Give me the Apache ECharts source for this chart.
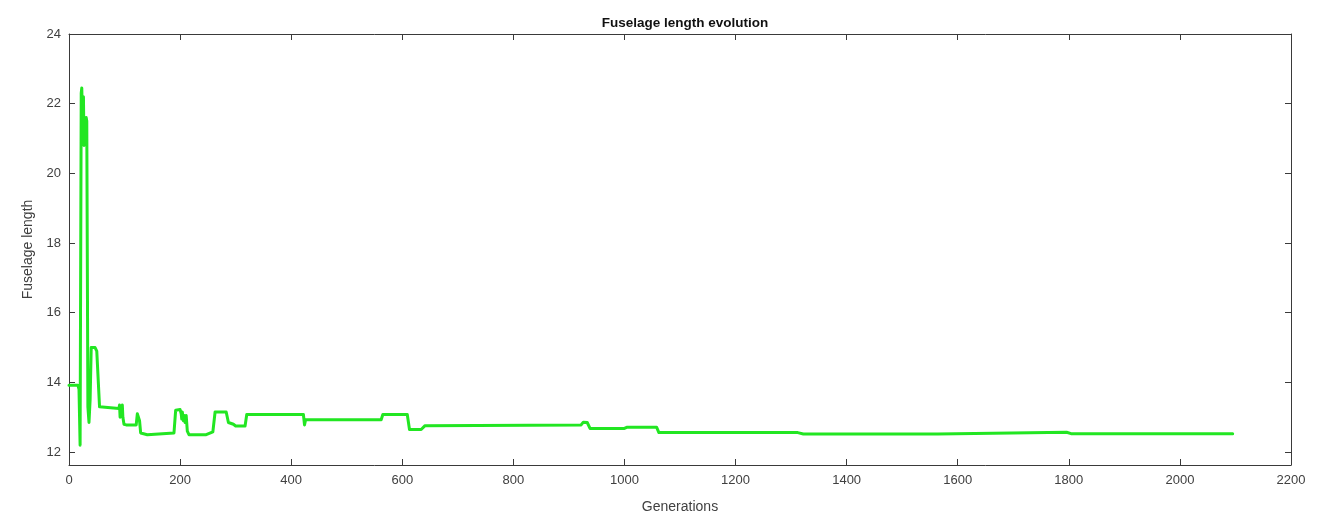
<!DOCTYPE html>
<html>
<head>
<meta charset="utf-8">
<script src="https://cdn.jsdelivr.net/npm/echarts@6/dist/echarts.min.js"></script>
<style>
  html, body { margin: 0; padding: 0; background: #fff; }
  #chart { width: 1329px; height: 519px; }
</style>
</head>
<body>
<div id="chart"></div>
<script>
// Best-so-far fuselage length per generation (step changes)
const generations = [
  0, 16, 18, 20, 22, 23, 25, 26, 27, 28, 30, 31, 32, 34, 36, 38, 40, 47, 50, 52,
  55, 57, 90, 91, 92, 93, 94, 96, 97, 99, 103, 121, 123, 125, 127, 129, 131, 141, 144, 189,
  192, 200, 202, 203, 204, 206, 207, 209, 211, 213, 216, 247, 250, 259, 263, 283, 287, 296, 300, 317,
  320, 422, 424, 426, 562, 565, 609, 613, 634, 641, 922, 926, 933, 938, 1000, 1004, 1058, 1062, 1312, 1322,
  1564, 1567, 1796, 1804, 2095
];
const fuselageLength = [
  13.92, 13.92, 13.8, 12.2, 22.3, 22.45, 21.0, 22.2, 20.8, 21.6, 20.9, 21.6, 21.5, 13.3, 12.85, 13.5, 15.0, 15.0, 14.9, 14.85,
  13.3, 13.25, 13.25, 13.35, 13.0, 13.3, 13.1, 13.35, 13.0, 12.8, 12.78, 12.78, 13.1, 13.0, 12.9, 12.55, 12.5, 12.5, 12.55, 12.55,
  13.2, 13.22, 13.1, 12.95, 13.15, 12.9, 13.05, 12.85, 13.05, 12.6, 12.5, 12.5, 12.55, 12.58, 13.15, 13.15, 12.85, 12.8, 12.75, 12.75,
  13.08, 13.08, 12.78, 12.93, 12.93, 13.08, 13.08, 12.65, 12.65, 12.76, 12.78, 12.86, 12.85, 12.68, 12.68, 12.71, 12.71, 12.56, 12.56, 12.52,
  12.52, 12.57, 12.57, 12.53, 12.53
];
const yTicks = [12, 14, 16, 18, 20, 22, 24];

const axisColor = '#3a3a3a';
const labelColor = '#404040';
const font = 'Liberation Sans, Arial, sans-serif';

const chart = echarts.init(document.getElementById('chart'), null, { renderer: 'canvas' });

const xCommon = {
  type: 'value', min: 0, max: 2200, interval: 200,
  axisLine: { show: true, onZero: false, lineStyle: { color: axisColor, width: 1 } },
  axisTick: { show: true, inside: true, length: 6, lineStyle: { color: axisColor } },
  splitLine: { show: false }
};
const yCommon = {
  type: 'value', min: 11.63, max: 24,
  axisLine: { show: true, onZero: false, lineStyle: { color: axisColor, width: 1 } },
  axisTick: { show: true, inside: true, length: 6, customValues: yTicks, lineStyle: { color: axisColor } },
  splitLine: { show: false }
};

chart.setOption({
  animation: false,
  backgroundColor: '#fff',
  title: {
    text: 'Fuselage length evolution',
    left: 680, top: 11, textAlign: 'center',
    textStyle: { fontFamily: font, fontSize: 13.5, fontWeight: 'bold', color: '#111' }
  },
  grid: { left: 69, right: 38, top: 34, bottom: 53, containLabel: false },
  xAxis: [
    Object.assign({}, xCommon, {
      position: 'bottom',
      name: 'Generations', nameLocation: 'middle', nameGap: 35,
      nameTextStyle: { fontFamily: font, fontSize: 14, color: labelColor },
      axisLabel: { show: true, margin: 9, fontFamily: font, fontSize: 13, color: labelColor,
                   formatter: v => String(v) }
    }),
    Object.assign({}, xCommon, {
      position: 'top',
      axisLabel: { show: false }
    })
  ],
  yAxis: [
    Object.assign({}, yCommon, {
      position: 'left',
      name: 'Fuselage length', nameLocation: 'middle', nameGap: 31,
      nameTextStyle: { fontFamily: font, fontSize: 14, color: labelColor },
      axisLabel: { show: true, margin: 8, customValues: yTicks, fontFamily: font, fontSize: 13, color: labelColor,
                   formatter: v => String(v) }
    }),
    Object.assign({}, yCommon, {
      position: 'right',
      axisLabel: { show: false }
    })
  ],
  series: [{
    type: 'line',
    xAxisIndex: 0, yAxisIndex: 0,
    data: generations.map((g, i) => [g, fuselageLength[i]]),
    showSymbol: false,
    symbol: 'none',
    lineStyle: { color: '#22e622', width: 3, join: 'round', cap: 'round' },
    z: 3
  }]
});
</script>
</body>
</html>
